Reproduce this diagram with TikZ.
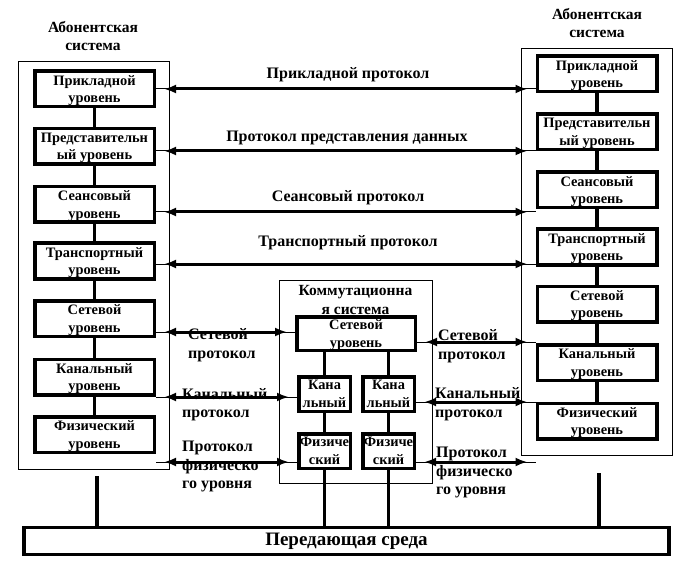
\documentclass[tikz,border=0pt]{standalone}
\usepackage{fontspec}
\setmainfont{Liberation Serif}
\usetikzlibrary{arrows.meta}
\tikzset{
  lbl/.style={font=\bfseries\fontsize{16}{18.5}\selectfont, inner sep=0pt, align=center},
  ttl/.style={lbl, font=\bfseries\fontsize{15.5}{18}\selectfont},
  layer/.style={lbl, font=\bfseries\fontsize{14.4}{17.5}\selectfont, draw, line width=3.5pt,
    minimum width=119.5pt, minimum height=35.5pt, text depth=-3.5pt},
  small/.style={layer, minimum width=51.5pt, minimum height=34.5pt, text depth=-1pt},
  outerbox/.style={draw, line width=0.8pt, minimum width=151pt, inner sep=0pt},
  conn/.style={line width=3.5pt},
  proto/.style={preaction={draw, line width=1pt, -, shorten <=0pt, shorten >=0pt},
    line width=3pt, {Latex[length=12pt,width=9pt]}-{Latex[length=12pt,width=9pt]},
    shorten <=8pt, shorten >=8pt},
}
\begin{document}
\begin{tikzpicture}[x=1pt,y=-1pt]
\useasboundingbox (0,0) rectangle (690,569);
% outer frames
\node[outerbox, minimum height=408pt] (LS) at (93.5,265) {};
\node[outerbox, minimum height=407pt] (RS) at (596.5,251.5) {};
\node[outerbox, minimum width=153pt, minimum height=203pt] (MS) at (355.5,381.5) {};
% titles
\node[ttl] (tL) at (93,36) {Абонентская\\система};
\node[ttl] (tR) at (597,23.5) {Абонентская\\система};
\node[ttl] (tM) at (355.5,300) {Коммутационна\\я система};
% left layers
\node[layer] (L1) at (94.5,89) {Прикладной\\уровень};
\node[layer] (L2) at (94.5,146.5) {Представительн\\ый уровень};
\node[layer] (L3) at (94.5,204.5) {Сеансовый\\уровень};
\node[layer] (L4) at (94.5,261) {Транспортный\\уровень};
\node[layer] (L5) at (94.5,318.5) {Сетевой\\уровень};
\node[layer] (L6) at (94.5,377) {Канальный\\уровень};
\node[layer] (L7) at (94.5,434.5) {Физический\\уровень};
% right layers
\node[layer] (R1) at (597,74) {Прикладной\\уровень};
\node[layer] (R2) at (597,132) {Представительн\\ый уровень};
\node[layer] (R3) at (597,190) {Сеансовый\\уровень};
\node[layer] (R4) at (597,247) {Транспортный\\уровень};
\node[layer] (R5) at (597,304) {Сетевой\\уровень};
\node[layer] (R6) at (597,362.5) {Канальный\\уровень};
\node[layer] (R7) at (597,421) {Физический\\уровень};
% switching system
\node[layer, minimum width=118.5pt, minimum height=33.5pt] (MN) at (356,333.5) {Сетевой\\уровень};
\node[small] (MK1) at (324.5,394) {Кана\\льный};
\node[small] (MK2) at (388.5,394) {Кана\\льный};
\node[small] (MF1) at (324.5,451) {Физиче\\ский};
\node[small] (MF2) at (388.5,451) {Физиче\\ский};
% medium
\node[lbl, draw, line width=3.5pt, minimum width=645pt, minimum height=27pt,
      font=\bfseries\fontsize{19}{22}\selectfont] (Med) at (346.5,541) {Передающая среда};
% vertical connectors
\foreach \a/\b in {L1/L2,L2/L3,L3/L4,L4/L5,L5/L6,L6/L7,R1/R2,R2/R3,R3/R4,R4/R5,R5/R6,R6/R7}
  \draw[conn] (\a.south) -- (\b.north);
\draw[conn] (MK1.north) -- (MK1.north |- MN.south);
\draw[conn] (MK2.north) -- (MK2.north |- MN.south);
\draw[conn] (MK1.south) -- (MF1.north);
\draw[conn] (MK2.south) -- (MF2.north);
\draw[conn] (MF1.south) -- (MF1.south |- Med.north);
\draw[conn] (MF2.south) -- (MF2.south |- Med.north);
\coordinate (lb) at (97,476);
\coordinate (rb) at (599,473);
\draw[conn] (lb) -- (lb |- Med.north);
\draw[conn] (rb) -- (rb |- Med.north);
% protocol labels
\node[lbl] (p1) at (348,75) {Прикладной протокол};
\node[lbl] (p2) at (347,138) {Протокол представления данных};
\node[lbl] (p3) at (348,198) {Сеансовый протокол};
\node[lbl] (p4) at (348,243) {Транспортный протокол};
\node[lbl, anchor=west, align=left] (pl5) at (188,345) {Сетевой\\протокол};
\node[lbl, anchor=west, align=left] (pl6) at (182,404.5) {Канальный\\протокол};
\node[lbl, anchor=west, align=left] (pl7) at (182,466.5) {Протокол\\физическо\\го уровня};
\node[lbl, anchor=west, align=left] (pr5) at (438,346) {Сетевой\\протокол};
\node[lbl, anchor=west, align=left] (pr6) at (435,404) {Канальный\\протокол};
\node[lbl, anchor=west, align=left] (pr7) at (436,472.5) {Протокол\\физическо\\го уровня};
% protocol arrows
\draw[proto] (L1.east |- 0,89) -- (R1.west |- 0,89);
\draw[proto] (L2.east |- 0,151) -- (R2.west |- 0,151);
\draw[proto] (L3.east |- 0,212) -- (R3.west |- 0,212);
\draw[proto] (L4.east |- 0,264) -- (R4.west |- 0,264);
\draw[proto] (L5.east |- 0,332) -- (MN.west |- 0,332);
\draw[proto] (L6.east |- 0,397) -- (MK1.west |- 0,397);
\draw[proto] (L7.east |- 0,462) -- (MF1.west |- 0,462);
\draw[proto] (MN.east |- 0,342) -- (R6.west |- 0,342);
\draw[proto] (MK2.east |- 0,402) -- (R7.west |- 0,402);
\draw[proto] (MF2.east |- 0,462) -- (R7.west |- 0,462);
\end{tikzpicture}
\end{document}
